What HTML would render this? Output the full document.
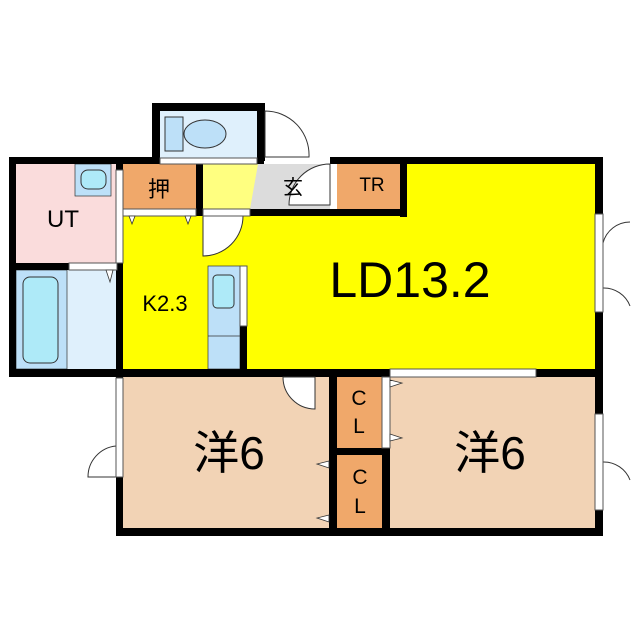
<!DOCTYPE html>
<html><head><meta charset="utf-8"><style>body{margin:0;background:#fff}svg{display:block}</style></head><body>
<svg width="640" height="640" viewBox="0 0 640 640" xmlns="http://www.w3.org/2000/svg" font-family="Liberation Sans, Noto Sans CJK JP, sans-serif">
<rect x="16" y="164" width="101" height="99" fill="#fadcdc"/>
<rect x="16" y="270" width="101" height="99" fill="#dff0fc"/>
<rect x="123" y="164" width="73" height="45" fill="#f0a86a"/>
<rect x="203" y="164" width="55" height="45" fill="#ffff80"/>
<polygon points="258,164 330,164 330,209 250,209" fill="#dcdcdc"/>
<rect x="123" y="216" width="472" height="153" fill="#ffff00"/>
<rect x="407" y="164" width="188" height="53" fill="#ffff00"/>
<rect x="337" y="164" width="63" height="46" fill="#f0a86a"/>
<rect x="160" y="111" width="97" height="47" fill="#dff0fc"/>
<rect x="123" y="377" width="206" height="151" fill="#f2d3b5"/>
<rect x="390" y="377" width="205" height="151" fill="#f2d3b5"/>
<rect x="337" y="377" width="45" height="71" fill="#f0a86a"/>
<rect x="337" y="455" width="45" height="73" fill="#f0a86a"/>
<rect x="208" y="266" width="32" height="103" fill="#bde0f8" stroke="#333" stroke-width="0.7"/>
<line x1="208" y1="336" x2="240" y2="336" stroke="#333" stroke-width="0.7"/>
<rect x="213" y="275" width="21" height="33" rx="4" fill="#aeeaf8" stroke="#333"/>
<rect x="75" y="164" width="36" height="32" fill="#bde0f8" stroke="#333" stroke-width="0.7"/>
<rect x="81" y="170" width="25" height="19" rx="7" fill="#aeeaf8" stroke="#333"/>
<rect x="16" y="270" width="51" height="99" fill="#bde0f8" stroke="#333" stroke-width="0.7"/>
<rect x="23" y="277" width="35" height="86" rx="7" fill="#aeeaf8" stroke="#333"/>
<rect x="165" y="117" width="18" height="34" fill="#bde0f8" stroke="#333"/>
<ellipse cx="205" cy="134" rx="21" ry="14" fill="#bde0f8" stroke="#333"/>
<g fill="#000">
<rect x="9" y="157" width="151" height="7"/>
<rect x="257" y="157" width="7" height="7"/>
<rect x="330" y="157" width="273" height="7"/>
<rect x="9" y="157" width="7" height="220"/>
<rect x="9" y="369" width="594" height="8"/>
<rect x="9" y="263" width="60" height="7"/>
<rect x="116" y="157" width="7" height="13"/>
<rect x="116" y="263" width="7" height="114"/>
<rect x="152" y="103" width="113" height="8"/>
<rect x="152" y="103" width="8" height="58"/>
<rect x="257" y="103" width="8" height="58"/>
<rect x="196" y="164" width="7" height="52"/>
<rect x="250" y="209" width="157" height="7"/>
<rect x="400" y="157" width="7" height="60"/>
<rect x="240" y="266" width="7" height="103"/>
<rect x="595" y="157" width="8" height="57"/>
<rect x="595" y="312" width="8" height="65"/>
<rect x="595" y="369" width="8" height="45"/>
<rect x="595" y="510" width="8" height="26"/>
<rect x="116" y="369" width="7" height="9"/>
<rect x="116" y="477" width="7" height="59"/>
<rect x="116" y="528" width="487" height="8"/>
<rect x="329" y="369" width="8" height="167"/>
<rect x="329" y="448" width="61" height="7"/>
<rect x="382" y="455" width="8" height="81"/>
</g>
<g fill="#fff" stroke="#333" stroke-width="1">
<path d="M265,111 A44,44 0 0 1 309,157 L265,157 Z"/>
<path d="M330,164 A41,41 0 0 0 289,205 L330,205 Z"/>
<path d="M203,256 A40,40 0 0 0 243,216 L203,216 Z"/>
<path d="M283,377 A32,32 0 0 0 315,409 L315,377 Z"/>
<path d="M116,446 A31,31 0 0 0 88,477 L116,477 Z"/>
<path d="M603,243 A28,28 0 0 1 630,222" fill="none"/>
<path d="M603,288 A28,28 0 0 1 630,306" fill="none"/>
<path d="M603,462 A28,28 0 0 1 630,480" fill="none"/>
</g>
<g fill="#fff" stroke="#555" stroke-width="1">
<rect x="595" y="214" width="8" height="98"/>
<rect x="595" y="414" width="8" height="96"/>
<rect x="116" y="378" width="7" height="99"/>
<rect x="116" y="170" width="7" height="93"/>
<rect x="160" y="158" width="97" height="6"/>
<rect x="69" y="263" width="48" height="7"/>
<rect x="123" y="209" width="73" height="7"/>
<rect x="203" y="209" width="47" height="7"/>
<rect x="390" y="369" width="146" height="8"/>
<rect x="382" y="377" width="8" height="71"/>
<rect x="240" y="266" width="7" height="60"/>
</g>
<g fill="#fff" stroke="#333" stroke-width="0.8">
<polygon points="129,216 135,216 132,224"/>
<polygon points="185,216 191,216 188,224"/>
<polygon points="106,270 113,270 110,282"/>
<polygon points="390,380 390,387 402,383"/>
<polygon points="390,434 390,441 402,438"/>
<polygon points="329,461 329,468 317,464"/>
<polygon points="329,515 329,522 317,518"/>
</g>
<g fill="#000">
<text x="63" y="227" font-size="24" text-anchor="middle">UT</text>
<text x="159" y="197" font-size="22" text-anchor="middle" font-family="Noto Sans CJK JP, sans-serif">押</text>
<text x="293" y="194" font-size="20" text-anchor="middle" font-family="Noto Sans CJK JP, sans-serif">玄</text>
<text x="372" y="191" font-size="19" text-anchor="middle">TR</text>
<text x="165" y="311" font-size="22" text-anchor="middle">K2.3</text>
<text x="410" y="297" font-size="50" text-anchor="middle">LD13.2</text>
<text x="229" y="469" font-size="46" text-anchor="middle" font-family="Liberation Sans, Noto Sans CJK JP, sans-serif">洋6</text>
<text x="490" y="469" font-size="46" text-anchor="middle" font-family="Liberation Sans, Noto Sans CJK JP, sans-serif">洋6</text>
<text x="359" y="405" font-size="21" text-anchor="middle">C</text>
<text x="359" y="433" font-size="21" text-anchor="middle">L</text>
<text x="360" y="484" font-size="21" text-anchor="middle">C</text>
<text x="360" y="513" font-size="21" text-anchor="middle">L</text>
</g>
</svg>
</body></html>
